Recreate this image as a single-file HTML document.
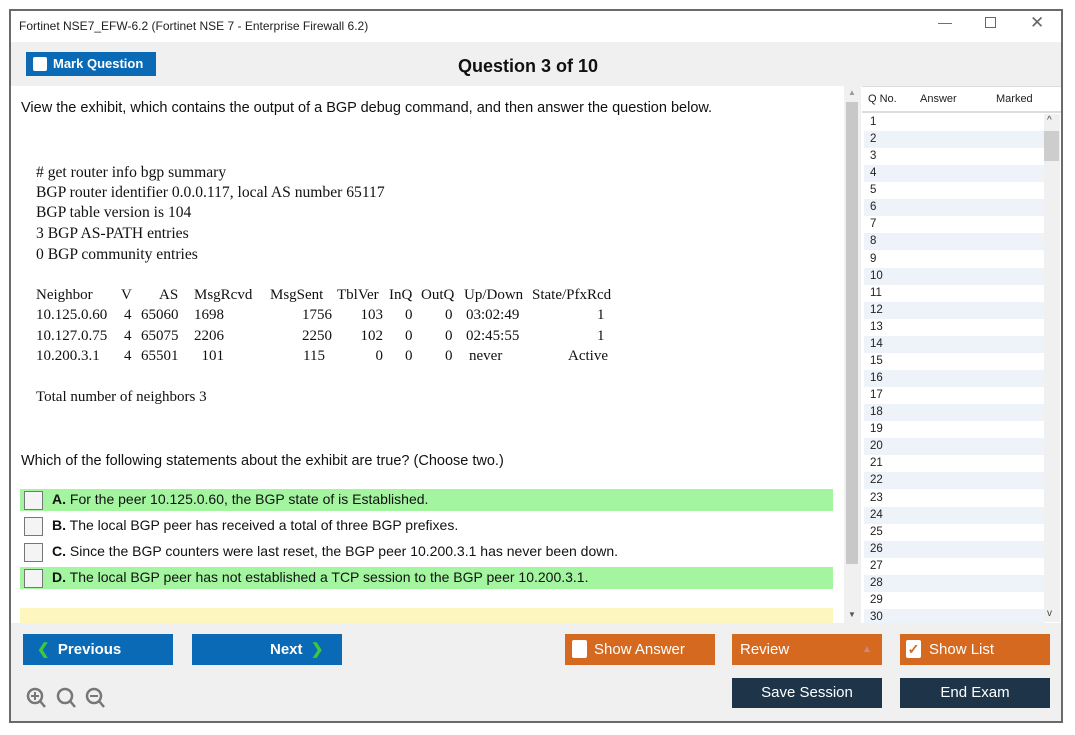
<!DOCTYPE html>
<html><head><meta charset="utf-8"><style>
*{margin:0;padding:0;box-sizing:border-box}
body{width:1075px;height:735px;background:#fff;position:relative;overflow:hidden;font-family:"Liberation Sans",sans-serif}
.a{position:absolute;white-space:nowrap}
.s{font-family:"Liberation Serif",serif;font-size:15px;color:#111}
.s2{font-size:15.6px}
.r{text-align:right}
.btn{position:absolute;color:#fff;font-size:15px;font-weight:bold;height:31px;line-height:31px}
.ql{position:absolute;left:864px;width:180px;height:17px;font-size:11.5px;line-height:17px;padding-left:6px;color:#222}
.cb{position:absolute;left:24px;width:19px;height:19px;border:1px solid #777;background:#f4f4f4}
.opt{position:absolute;left:52px;font-size:14px;color:#111}
</style></head><body>
<div class="a" style="left:9px;top:9px;width:1054px;height:714px;border:2px solid #6a6a6a"></div>
<div class="a" style="left:11px;top:11px;width:1050px;height:31px;background:#fff"></div>
<div class="a" style="left:19px;top:19px;font-size:12px;color:#222">Fortinet NSE7_EFW-6.2 (Fortinet NSE 7 - Enterprise Firewall 6.2)</div>
<div class="a" style="left:938px;top:14px;font-size:14px;color:#666">—</div>
<div class="a" style="left:985px;top:17px;width:11px;height:11px;border:1px solid #666"></div>
<div class="a" style="left:1030px;top:13px;font-size:17px;color:#666">✕</div>
<div class="a" style="left:11px;top:42px;width:1050px;height:44px;background:#f0f0f0"></div>
<div class="a" style="left:26px;top:52px;width:130px;height:24px;background:#0b6ab5"></div>
<div class="a" style="left:33px;top:57px;width:14px;height:14px;background:#fff;border-radius:2px"></div>
<div class="a" style="left:53px;top:56px;font-size:13px;font-weight:bold;color:#fff">Mark Question</div>
<div class="a" style="left:458px;top:56px;font-size:18px;font-weight:bold;color:#111">Question 3 of 10</div>
<div class="a" style="left:21px;top:100px;font-size:14.5px;color:#111">View the exhibit, which contains the output of a BGP debug command, and then answer the question below.</div>
<div class="a s s2" style="left:36px;top:164px">#&nbsp;get router info bgp summary</div>
<div class="a s s2" style="left:36px;top:184px">BGP router identifier 0.0.0.117, local AS number 65117</div>
<div class="a s s2" style="left:36px;top:204px">BGP table version is 104</div>
<div class="a s s2" style="left:36px;top:225px">3 BGP AS-PATH entries</div>
<div class="a s s2" style="left:36px;top:246px">0 BGP community entries</div>
<div class="a s" style="left:36px;top:287px">Neighbor</div><div class="a s" style="left:121px;top:287px">V</div><div class="a s" style="left:159px;top:287px">AS</div><div class="a s" style="left:194px;top:287px">MsgRcvd</div><div class="a s" style="left:270px;top:287px">MsgSent</div><div class="a s" style="left:337px;top:287px">TblVer</div><div class="a s" style="left:389px;top:287px">InQ</div><div class="a s" style="left:421px;top:287px">OutQ</div><div class="a s" style="left:464px;top:287px">Up/Down</div><div class="a s" style="left:532px;top:287px">State/PfxRcd</div>
<div class="a s" style="left:36px;top:307px">10.125.0.60</div><div class="a s" style="left:124px;top:307px">4</div><div class="a s" style="left:141px;top:307px">65060</div><div class="a s" style="left:194px;top:307px">1698</div><div class="a s r" style="left:280px;width:52px;top:307px">1756</div><div class="a s r" style="left:340px;width:43px;top:307px">103</div><div class="a s" style="left:405px;top:307px">0</div><div class="a s" style="left:445px;top:307px">0</div><div class="a s" style="left:466px;top:307px">03:02:49</div><div class="a s" style="left:597px;top:307px">1</div>
<div class="a s" style="left:36px;top:328px">10.127.0.75</div><div class="a s" style="left:124px;top:328px">4</div><div class="a s" style="left:141px;top:328px">65075</div><div class="a s" style="left:194px;top:328px">2206</div><div class="a s r" style="left:280px;width:52px;top:328px">2250</div><div class="a s r" style="left:340px;width:43px;top:328px">102</div><div class="a s" style="left:405px;top:328px">0</div><div class="a s" style="left:445px;top:328px">0</div><div class="a s" style="left:466px;top:328px">02:45:55</div><div class="a s" style="left:597px;top:328px">1</div>
<div class="a s" style="left:36px;top:348px">10.200.3.1</div><div class="a s" style="left:124px;top:348px">4</div><div class="a s" style="left:141px;top:348px">65501</div><div class="a s r" style="left:180px;width:44px;top:348px">101</div><div class="a s r" style="left:280px;width:45px;top:348px">115</div><div class="a s r" style="left:340px;width:43px;top:348px">0</div><div class="a s" style="left:405px;top:348px">0</div><div class="a s" style="left:445px;top:348px">0</div><div class="a s" style="left:469px;top:348px">never</div><div class="a s" style="left:568px;top:348px">Active</div>
<div class="a s" style="left:36px;top:389px">Total number of neighbors 3</div>
<div class="a" style="left:21px;top:453px;font-size:14.5px;color:#111">Which of the following statements about the exhibit are true? (Choose two.)</div>
<div class="a" style="left:20px;top:489px;width:813px;height:22px;background:#a3f5a0"></div>
<div class="a" style="left:20px;top:567px;width:813px;height:22px;background:#a3f5a0"></div>
<div class="cb" style="top:491px"></div><div class="cb" style="top:517px"></div><div class="cb" style="top:543px"></div><div class="cb" style="top:569px"></div>
<div class="opt" style="top:491px"><b>A.</b> For the peer 10.125.0.60, the BGP state of is Established.</div>
<div class="opt" style="top:517px"><b>B.</b> The local BGP peer has received a total of three BGP prefixes.</div>
<div class="opt" style="top:543px"><b>C.</b> Since the BGP counters were last reset, the BGP peer 10.200.3.1 has never been down.</div>
<div class="opt" style="top:569px"><b>D.</b> The local BGP peer has not established a TCP session to the BGP peer 10.200.3.1.</div>
<div class="a" style="left:20px;top:608px;width:813px;height:15px;background:#fdf7bf"></div>
<div class="a" style="left:844px;top:86px;width:17px;height:537px;background:#f0f0f0"></div>
<div class="a" style="left:846px;top:102px;width:12px;height:462px;background:#c8c8c8"></div>
<div class="a" style="left:848px;top:88px;font-size:8px;color:#999">▲</div>
<div class="a" style="left:848px;top:610px;font-size:8px;color:#555">▼</div>
<div class="a" style="left:862px;top:86px;width:199px;height:537px;background:#fff;border-top:1px solid #ddd"></div>
<div class="a" style="left:862px;top:86px;width:199px;height:27px;border-bottom:2px solid #ddd"></div>
<div class="a" style="left:868px;top:93px;font-size:11px;color:#222">Q No.</div>
<div class="a" style="left:920px;top:93px;font-size:11px;color:#222">Answer</div>
<div class="a" style="left:996px;top:93px;font-size:11px;color:#222">Marked</div>
<div class="a" style="left:1043px;top:114px;width:17px;height:508px;background:#f0f0f0"></div>
<div class="a" style="left:1044px;top:131px;width:15px;height:30px;background:#cdcdcd"></div>
<div class="a" style="left:1047px;top:115px;font-size:10px;color:#444">^</div>
<div class="a" style="left:1047px;top:608px;font-size:10px;color:#444">v</div>
<div id="ql"></div>
<script>
var h='';for(var i=1;i<=30;i++){h+='<div class="ql" style="top:'+(114+(i-1)*17.07)+'px;background:'+(i%2==0?'#eef3f9':'#fff')+'">'+i+'</div>';}
document.getElementById('ql').innerHTML=h;
</script>
<div class="a" style="left:11px;top:623px;width:1050px;height:98px;background:#f0f0f0"></div>
<div class="btn" style="left:23px;top:634px;width:150px;background:#0b6ab5;padding-left:14px"><span style="color:#3ec83e">❮</span>&nbsp;&nbsp;Previous</div>
<div class="btn" style="left:192px;top:634px;width:150px;background:#0b6ab5;padding-left:78px">Next&nbsp;&nbsp;<span style="color:#3ec83e">❯</span></div>
<div class="btn" style="left:565px;top:634px;width:150px;background:#d4691f;font-weight:normal;padding-left:29px">Show Answer</div>
<div class="a" style="left:572px;top:640px;width:15px;height:18px;background:#fff;border-radius:2px"></div>
<div class="btn" style="left:732px;top:634px;width:150px;background:#d4691f;font-weight:normal;padding-left:8px">Review<span style="position:absolute;left:130px;font-size:10px;color:#c88">▲</span></div>
<div class="btn" style="left:900px;top:634px;width:150px;background:#d4691f;font-weight:normal;padding-left:29px">Show List</div>
<div class="a" style="left:906px;top:640px;width:15px;height:18px;background:#fff;border-radius:2px;color:#d4691f;font-size:14px;line-height:18px;text-align:center;font-weight:bold">✓</div>
<div class="btn" style="left:732px;top:678px;width:150px;height:30px;line-height:30px;background:#1d3449;font-weight:normal;text-align:center">Save Session</div>
<div class="btn" style="left:900px;top:678px;width:150px;height:30px;line-height:30px;background:#1d3449;font-weight:normal;text-align:center">End Exam</div>
<svg class="a" style="left:25px;top:686px" width="90" height="26"><g fill="none" stroke="#777" stroke-width="2.5"><circle cx="10" cy="10" r="7"/><line x1="15" y1="15" x2="20" y2="21"/><line x1="6" y1="10" x2="14" y2="10" stroke-width="2"/><line x1="10" y1="6" x2="10" y2="14" stroke-width="2"/><circle cx="40" cy="10" r="7"/><line x1="45" y1="15" x2="50" y2="21"/><circle cx="69" cy="10" r="7"/><line x1="74" y1="15" x2="79" y2="21"/><line x1="65" y1="10" x2="73" y2="10" stroke-width="2"/></g></svg>
</body></html>
